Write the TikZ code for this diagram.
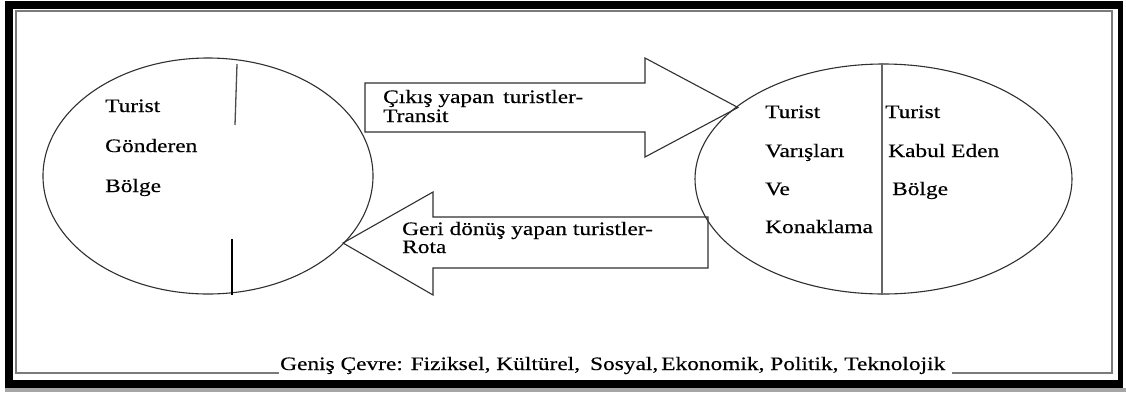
\documentclass[tikz,border=0pt]{standalone}
\usepackage{fontspec}
\setmainfont{Liberation Serif}
\newfontfamily\dfont[FakeStretch=1.23,FakeBold=0.4]{Liberation Serif}
\usetikzlibrary{shapes.geometric}
\definecolor{framegray}{HTML}{7A7A7A}
\definecolor{linegray}{HTML}{303030}
\begin{document}
\begin{tikzpicture}[x=1pt,y=-1pt,
  lbl/.style={anchor=base west,inner sep=0pt,font=\dfont\fontsize{19}{19}\selectfont,text=black},
  region/.style={ellipse,draw=linegray,line width=1.1pt,inner sep=0pt},
  flow/.style={draw=linegray,line width=1.1pt,line join=miter},
  divider/.style={line width=1.3pt}]
\useasboundingbox (0,0) rectangle (1126,392);
% outer black frame
\fill[black!35] (5,388) rectangle (1126,392);
\fill[black] (5,1) rectangle (1123,388);
\fill[white] (13,9) rectangle (1118,380);
% inner gray frame
\draw[framegray,line width=2pt] (279,373) -- (16,373) -- (16,11) -- (1112,11) -- (1112,373) -- (952,373);
% ellipses
\node[region,minimum width=330,minimum height=236] (src) at (208,176) {};
\node[region,minimum width=377,minimum height=230] (dst) at (883.5,179) {};
% dividers
\draw[divider,black!70] (237,64) -- (235,125);
\draw[divider,black] (232,239) -- (src.south -| 232,0);
\draw[divider,black!60,line width=2pt] (dst.north -| 882,0) -- (dst.south -| 882,0);
% arrows
\draw[flow] (365,83) -- (645,83) -- (645,58) -- (738,107.5) -- (645,157) -- (645,132) -- (365,132) -- cycle;
\draw[flow] (708,217) -- (433,217) -- (433,192) -- (343,243) -- (433,295) -- (433,268) -- (708,268) -- cycle;
% texts left
\node[lbl] (s1) at (105,112) {Turist};
\node[lbl] (s2) at (105,152) {Gönderen};
\node[lbl] (s3) at (105,192) {Bölge};
% arrow texts
\node[lbl] (a1) at (383,103) {Çıkış yapan\hspace{9pt}turistler-};
\node[lbl] (a2) at (383,122) {Transit};
\node[lbl] (b1) at (402,235) {Geri dönüş yapan turistler-};
\node[lbl] (b2) at (402,253) {Rota};
% right texts
\node[lbl] (d1) at (765,118) {Turist};
\node[lbl] (d2) at (765,157) {Varışları};
\node[lbl] (d3) at (765,195) {Ve};
\node[lbl] (d4) at (765,233) {Konaklama};
\node[lbl] (r1) at (885,118) {Turist};
\node[lbl] (r2) at (888,157) {Kabul Eden};
\node[lbl] (r3) at (892,195) {Bölge};
% bottom text
\node[lbl] (env) at (280,370) {Geniş Çevre: Fiziksel, Kültürel,\hspace{10pt}Sosyal,\hspace{3pt}Ekonomik, Politik, Teknolojik};
\end{tikzpicture}
\end{document}
